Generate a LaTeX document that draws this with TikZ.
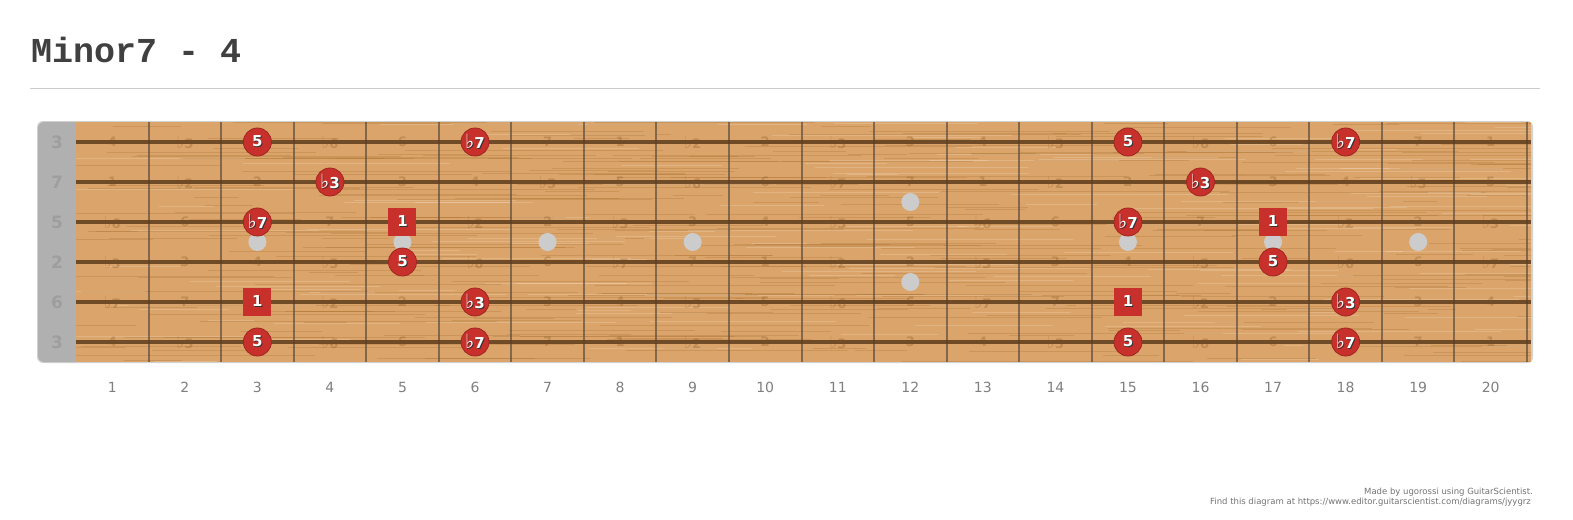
\documentclass[tikz,border=0pt]{standalone}
\usepackage{fontspec}
\setmainfont{DejaVu Sans}
\newfontfamily\titlefont{Liberation Mono}
\usetikzlibrary{calc}

\definecolor{wood}{HTML}{DBA46A}
\definecolor{grain}{HTML}{A8702F}
\definecolor{strg}{HTML}{5E3C1C}
\definecolor{fretc}{HTML}{5E4E3E}
\definecolor{dotred}{HTML}{C8302B}
\definecolor{nutgray}{HTML}{B0B0B0}
\definecolor{inlay}{HTML}{CCCCCC}

% interval name from semitones above the root
\newcommand\fl{\scalebox{1.3}{♭}}
\newcommand\ivname[1]{\ifcase#1 1\or \fl2\or 2\or \fl3\or 3\or 4\or \fl5\or 5\or \fl6\or 6\or \fl7\or 7\fi}
% white text with a dark shadow
\newcommand\shtext[1]{\makebox[0pt][l]{\hspace{1pt}\raisebox{-1pt}{\color{black!80}#1}}#1}

\begin{document}
\begin{tikzpicture}[
  x=1pt, y=-1pt,
  faint/.style={inner sep=0, font=\bfseries\fontsize{13}{13}\selectfont, text=grain!70!black, text opacity=0.28},
  nutlabel/.style={inner sep=0, font=\bfseries\fontsize{17}{17}\selectfont, text=black!38},
  dotc/.style={circle, fill=dotred, draw=dotred!80!black, line width=0.8, minimum size=28, inner sep=0, text=white, font=\bfseries\fontsize{15}{15}\selectfont},
  dots/.style={rectangle, fill=dotred, minimum size=28, inner sep=0, text=white, font=\bfseries\fontsize{15}{15}\selectfont},
  fretnum/.style={inner sep=0, font=\fontsize{14}{14}\selectfont, text=black!50},
]
\fill[white] (0,0) rectangle (1573,519);
\useasboundingbox (0,0) rectangle (1573,519);

% title
\node[anchor=base west, inner sep=0, font=\titlefont\bfseries\fontsize{35}{40}\selectfont, text=black!75] (title) at (31,63) {Minor7 - 4};
\draw[black!20] (30,88) -- (1540,88);

% board
\fill[black!18, rounded corners=6] (37,121) rectangle (1533,363);
\fill[nutgray, rounded corners=6] (38,122) rectangle (82,362);
\fill[wood] (76,122) rectangle (1531,362);
\begin{scope}
  \clip (76,122) rectangle (1531,362);
  \pgfmathsetseed{7}
  \foreach \i in {1,...,320}{
    \pgfmathsetmacro\gy{122+240*rnd}
    \pgfmathsetmacro\gx{40+1480*rnd}
    \pgfmathsetmacro\gl{40+260*rnd}
    \draw[grain, opacity=0.3, line width=0.7] (\gx,\gy) -- ++(\gl,0);
  }
  \foreach \i in {1,...,160}{
    \pgfmathsetmacro\gy{122+240*rnd}
    \pgfmathsetmacro\gx{40+1480*rnd}
    \pgfmathsetmacro\gl{40+200*rnd}
    \draw[white, opacity=0.18, line width=0.8] (\gx,\gy) -- ++(\gl,0);
  }
\end{scope}

% frets and strings
\foreach \k in {1,...,20}
  \draw[fretc, opacity=0.7, line width=2] ({76+72.55*\k},122) -- ++(0,240);
\foreach \s in {1,...,6}
  \draw[strg, opacity=0.85, line width=3.2] (76,{142+40*(\s-1)}) -- (1531,{142+40*(\s-1)});

% open strings on the nut
\foreach \s/\l in {1/3,2/7,3/5,4/2,5/6,6/3}
  \node[nutlabel] (nut\s) at (57,{142+40*(\s-1)}) {\l};

% faint intervals on every fret
\foreach \s/\o in {1/4,2/11,3/7,4/2,5/9,6/4}
  \foreach \k in {1,...,20}{
    \pgfmathtruncatemacro\iv{mod(\o+\k,12)}
    \node[faint] (iv-\s-\k) at ({76+72.55*(\k-0.5)},{142+40*(\s-1)}) {\ivname{\iv}};
  }

% inlays
\foreach \k in {3,5,7,9,15,17,19}
  \fill[inlay] ({76+72.55*(\k-0.5)},242) circle (9);
\fill[inlay] ({76+72.55*11.5},202) circle (9);
\fill[inlay] ({76+72.55*11.5},282) circle (9);

% chord tones
\foreach \s/\k/\t in {1/3/5, 1/6/\fl7, 1/15/5, 1/18/\fl7,
                      2/4/\fl3, 2/16/\fl3,
                      3/3/\fl7, 3/15/\fl7,
                      4/5/5, 4/17/5,
                      5/6/\fl3, 5/18/\fl3,
                      6/3/5, 6/6/\fl7, 6/15/5, 6/18/\fl7}
  \node[dotc] (n-\s-\k) at ({76+72.55*(\k-0.5)},{142+40*(\s-1)}) {\shtext{\t}};
\foreach \s/\k in {3/5, 3/17, 5/3, 5/15}
  \node[dots] (r-\s-\k) at ({76+72.55*(\k-0.5)},{142+40*(\s-1)}) {\shtext{1}};

% fret numbers
\foreach \k in {1,...,20}
  \node[fretnum] (fn\k) at ({76+72.55*(\k-0.5)},387) {\k};

% credits
\node[anchor=base east, inner sep=0, font=\fontsize{8.5}{9}\selectfont, text=black!55] (made) at (1533,494) {Made by ugorossi using GuitarScientist.};
\node[anchor=base east, inner sep=0, font=\fontsize{8.5}{9}\selectfont, text=black!55] (find) at (1531,504) {Find this diagram at https://www.editor.guitarscientist.com/diagrams/jyygrz};
\end{tikzpicture}
\end{document}
